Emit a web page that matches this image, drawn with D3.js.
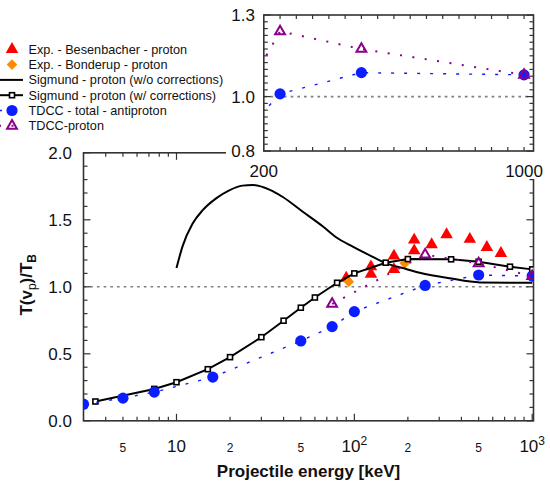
<!DOCTYPE html>
<html>
<head>
<meta charset="utf-8">
<script src="https://cdn.jsdelivr.net/npm/d3@7"></script>
<style>
  html, body { margin: 0; padding: 0; background: #fff; }
  svg { display: block; font-family: "Liberation Sans", Arial, Helvetica, sans-serif; }
</style>
</head>
<body>
<svg id="chart" width="550" height="481"></svg>
<script>
// Projectile energies (keV) and stopping ratios T(v_p)/T_B
const besenbacherE = [90, 124, 124, 167, 167, 217, 217, 272, 330, 446, 556, 667];
const besenbacherT = [1.065, 1.15, 1.095, 1.23, 1.13, 1.35, 1.27, 1.315, 1.39, 1.355, 1.295, 1.25];

const bonderupE = [93, 192];
const bonderupT = [1.038, 1.175];

const sigmundNoCorrE = [10, 10.8, 12.3, 14, 16.7, 19.8, 23.5, 26.8, 33.3, 39.6, 51.3, 66.6, 79, 98, 122, 151, 187, 233, 345, 508, 1000];
const sigmundNoCorrT = [1.14, 1.30, 1.47, 1.57, 1.66, 1.72, 1.755, 1.76, 1.725, 1.67, 1.56, 1.45, 1.37, 1.30, 1.235, 1.175, 1.14, 1.105, 1.063, 1.033, 1.03];

const sigmundCorrE = [3.5, 7.5, 10, 15, 20, 30, 40, 50, 60, 80, 100, 150, 200, 350, 500, 750, 1000];
const sigmundCorrT = [0.144, 0.238, 0.288, 0.385, 0.475, 0.624, 0.747, 0.844, 0.92, 1.03, 1.10, 1.18, 1.207, 1.205, 1.187, 1.15, 1.13];

const tdccAntiE = [3, 5, 7.5, 16, 50, 75, 100, 250, 500, 1000];
const tdccAntiT = [0.124, 0.169, 0.214, 0.326, 0.596, 0.703, 0.815, 1.01, 1.088, 1.08];

const tdccProtonE = [75, 250, 500, 1000];
const tdccProtonT = [0.872, 1.24, 1.175, 1.08];

const legendLabels = [
  "Exp. - Besenbacher - proton",
  "Exp. - Bonderup - proton",
  "Sigmund - proton (w/o corrections)",
  "Sigmund - proton (w/ corrections)",
  "TDCC - total - antiproton",
  "TDCC-proton"
];

const mainYTicks = [0, 0.5, 1.0, 1.5, 2.0];
const mainXLabels = [
  { v: 5, t: "5", big: false }, { v: 10, t: "10", big: true },
  { v: 20, t: "2", big: false }, { v: 50, t: "5", big: false },
  { v: 100, t: "10", sup: "2", big: true }, { v: 200, t: "2", big: false },
  { v: 500, t: "5", big: false }, { v: 1000, t: "10", sup: "3", big: true }
];
const insetYLabels = [0.8, 1.0, 1.3];
const insetXLabels = [200, 1000];

const C = {
  frame: "#333", red: "#ff0000", orange: "#ff8c00",
  blue: "#0a1eff", purple: "#8b008b", grey: "#808080", black: "#000"
};

const zip = (xs, ys) => xs.map((x, i) => ({ x, y: ys[i] }));

const svg = d3.select("#chart");
svg.append("rect").attr("width", 550).attr("height", 481).attr("fill", "#fff");

// ---------- main panel ----------
const M = { left: 83.5, right: 533.5, top: 152.8, bottom: 420.8 };
const x = d3.scaleLog().domain([3, 1017]).range([M.left, M.right]);
const y = d3.scaleLinear().domain([0, 2]).range([M.bottom, M.top]);

svg.append("clipPath").attr("id", "mainClip")
  .append("rect").attr("x", M.left).attr("y", M.top)
  .attr("width", M.right - M.left).attr("height", M.bottom - M.top);

const main = svg.append("g");

// reference line T = T_B
main.append("line")
  .attr("x1", M.left).attr("x2", M.right).attr("y1", y(1)).attr("y2", y(1))
  .attr("stroke", C.grey).attr("stroke-width", 1.6).attr("stroke-dasharray", "2.7,4");

// ticks (inward, on all four sides)
const xMinor = [], xMajor = [10, 100, 1000];
[1, 10, 100].forEach(d => { for (let k = 2; k <= 9; k++) { const v = k * d; if (v > 3 && v < 1017) xMinor.push(v); } });
const ticks = main.append("g").attr("stroke", C.frame).attr("stroke-width", 1.2);
xMinor.concat(xMajor).forEach(v => {
  const len = xMajor.includes(v) ? 7 : 4, px = x(v);
  ticks.append("line").attr("x1", px).attr("x2", px).attr("y1", M.bottom).attr("y2", M.bottom - len);
  ticks.append("line").attr("x1", px).attr("x2", px).attr("y1", M.top).attr("y2", M.top + len);
});
d3.range(0, 21).forEach(i => {
  const v = i / 10, len = (i % 5 === 0) ? 7 : 4, py = y(v);
  ticks.append("line").attr("x1", M.left).attr("x2", M.left + len).attr("y1", py).attr("y2", py);
  ticks.append("line").attr("x1", M.right).attr("x2", M.right - len).attr("y1", py).attr("y2", py);
});

main.append("rect")
  .attr("x", M.left).attr("y", M.top).attr("width", M.right - M.left).attr("height", M.bottom - M.top)
  .attr("fill", "none").attr("stroke", C.frame).attr("stroke-width", 1.6);

// tick labels
main.selectAll("text.ylab").data(mainYTicks).join("text")
  .attr("x", 72).attr("y", d => y(d)).attr("dy", "0.36em")
  .attr("text-anchor", "end").attr("font-size", 17).attr("fill", "#111")
  .text(d => d.toFixed(1));

mainXLabels.forEach(d => {
  const t = main.append("text").attr("x", x(d.v)).attr("y", 452)
    .attr("text-anchor", "middle").attr("fill", "#111")
    .attr("font-size", d.big ? 17 : 12);
  t.append("tspan").text(d.t);
  if (d.sup) t.append("tspan").attr("font-size", 12).attr("dy", -7).text(d.sup);
});

main.append("text").attr("x", (M.left + M.right) / 2).attr("y", 477)
  .attr("text-anchor", "middle").attr("font-size", 17).attr("font-weight", "bold")
  .attr("fill", "#111").text("Projectile energy [keV]");

const ytitle = main.append("text")
  .attr("transform", `translate(32,${(M.top + M.bottom) / 2 - 2}) rotate(-90)`)
  .attr("text-anchor", "middle").attr("font-size", 17).attr("font-weight", "bold").attr("fill", "#111");
ytitle.append("tspan").text("T(v");
ytitle.append("tspan").attr("font-size", 12).attr("font-weight", "normal").attr("dy", 4).text("p");
ytitle.append("tspan").attr("dy", -4).text(")/T");
ytitle.append("tspan").attr("font-size", 12).attr("dy", 4).text("B");

// data layer
const data = main.append("g").attr("clip-path", "url(#mainClip)");
const lineMain = d3.line().x(d => x(d.x)).y(d => y(d.y));

const sym = (type, size) => d3.symbol().type(type).size(size)();

function drawSeries(g, sx, sy) {
  const ln = d3.line().x(d => sx(d.x)).y(d => sy(d.y));
  // TDCC curves
  g.append("path").datum(zip(tdccAntiE, tdccAntiT)).attr("d", ln)
    .attr("fill", "none").attr("stroke", C.blue).attr("stroke-width", 1.4).attr("stroke-dasharray", "3,10");
  g.append("path").datum(zip(tdccProtonE, tdccProtonT)).attr("d", ln)
    .attr("fill", "none").attr("stroke", C.purple).attr("stroke-width", 2).attr("stroke-dasharray", "2,10.5");
}

// experiments
data.selectAll("path.bes").data(zip(besenbacherE, besenbacherT)).join("path")
  .attr("transform", d => `translate(${x(d.x)},${y(d.y)})`)
  .attr("d", sym(d3.symbolTriangle, 68)).attr("fill", C.red);
data.selectAll("path.bon").data(zip(bonderupE, bonderupT)).join("path")
  .attr("transform", d => `translate(${x(d.x)},${y(d.y)})`)
  .attr("d", sym(d3.symbolDiamond2, 72)).attr("fill", C.orange);

// Sigmund theory
data.append("path").datum(zip(sigmundNoCorrE, sigmundNoCorrT))
  .attr("d", d3.line().x(d => x(d.x)).y(d => y(d.y)).curve(d3.curveMonotoneX))
  .attr("fill", "none").attr("stroke", C.black).attr("stroke-width", 2);
data.append("path").datum(zip(sigmundCorrE, sigmundCorrT)).attr("d", lineMain)
  .attr("fill", "none").attr("stroke", C.black).attr("stroke-width", 2);
data.selectAll("rect.sq").data(zip(sigmundCorrE, sigmundCorrT)).join("rect")
  .attr("x", d => x(d.x) - 2.5).attr("y", d => y(d.y) - 2.5).attr("width", 5).attr("height", 5)
  .attr("fill", "#fff").attr("stroke", C.black).attr("stroke-width", 1.6);

drawSeries(data, x, y);
data.selectAll("circle.anti").data(zip(tdccAntiE, tdccAntiT)).join("circle")
  .attr("cx", d => x(d.x)).attr("cy", d => y(d.y)).attr("r", 5.6).attr("fill", C.blue);
data.selectAll("path.prot").data(zip(tdccProtonE, tdccProtonT)).join("path")
  .attr("transform", d => `translate(${x(d.x)},${y(d.y)})`)
  .attr("d", sym(d3.symbolTriangle, 42)).attr("fill", "none")
  .attr("stroke", C.purple).attr("stroke-width", 2);

// ---------- inset panel ----------
svg.append("rect").attr("x", 226).attr("y", 0).attr("width", 324).attr("height", 179).attr("fill", "#fff");

const I = { left: 263.8, right: 533.5, top: 15, bottom: 151 };
const xi = d3.scaleLinear().domain([200, 1029]).range([I.left, I.right]);
const yi = d3.scaleLinear().domain([0.8, 1.3]).range([I.bottom, I.top]);

svg.append("clipPath").attr("id", "insetClip")
  .append("rect").attr("x", I.left).attr("y", I.top)
  .attr("width", I.right - I.left).attr("height", I.bottom - I.top);

const inset = svg.append("g");
inset.append("line")
  .attr("x1", I.left).attr("x2", I.right).attr("y1", yi(1)).attr("y2", yi(1))
  .attr("stroke", C.grey).attr("stroke-width", 1.6).attr("stroke-dasharray", "2.7,4");

const iticks = inset.append("g").attr("stroke", C.frame).attr("stroke-width", 1.2);
d3.range(250, 1001, 50).forEach(v => {
  const px = xi(v);
  iticks.append("line").attr("x1", px).attr("x2", px).attr("y1", I.bottom).attr("y2", I.bottom - 4);
  iticks.append("line").attr("x1", px).attr("x2", px).attr("y1", I.top).attr("y2", I.top + 4);
});
d3.range(0, 21).forEach(i => {
  const v = 0.8 + i * 0.025, py = yi(v);
  const len = insetYLabels.some(l => Math.abs(l - v) < 1e-6) ? 7 : 4;
  iticks.append("line").attr("x1", I.left).attr("x2", I.left + len).attr("y1", py).attr("y2", py);
  iticks.append("line").attr("x1", I.right).attr("x2", I.right - len).attr("y1", py).attr("y2", py);
});

const idata = inset.append("g").attr("clip-path", "url(#insetClip)");
drawSeries(idata, xi, yi);
idata.selectAll("circle").data(zip(tdccAntiE, tdccAntiT)).join("circle")
  .attr("cx", d => xi(d.x)).attr("cy", d => yi(d.y)).attr("r", 5.6).attr("fill", C.blue);
idata.selectAll("path.prot").data(zip(tdccProtonE, tdccProtonT)).join("path")
  .attr("transform", d => `translate(${xi(d.x)},${yi(d.y)})`)
  .attr("d", sym(d3.symbolTriangle, 42)).attr("fill", "none")
  .attr("stroke", C.purple).attr("stroke-width", 2);

inset.append("rect")
  .attr("x", I.left).attr("y", I.top).attr("width", I.right - I.left).attr("height", I.bottom - I.top)
  .attr("fill", "none").attr("stroke", C.frame).attr("stroke-width", 1.6);

inset.selectAll("text.iy").data(insetYLabels).join("text")
  .attr("x", 255).attr("y", d => yi(d)).attr("dy", "0.36em")
  .attr("text-anchor", "end").attr("font-size", 17).attr("fill", "#111")
  .text(d => d.toFixed(1));
inset.selectAll("text.ix").data(insetXLabels).join("text")
  .attr("x", d => xi(d)).attr("y", 177)
  .attr("text-anchor", "middle").attr("font-size", 17).attr("fill", "#111")
  .text(d => d);

// ---------- legend ----------
const legend = svg.append("g");
const rowY = i => 49.3 + i * 15.3;
legendLabels.forEach((label, i) => {
  legend.append("text").attr("x", 28.5).attr("y", rowY(i)).attr("dy", "0.36em")
    .attr("font-size", 12.7).attr("fill", "#111").text(label);
});
legend.append("path").attr("transform", `translate(12,${rowY(0)})`)
  .attr("d", sym(d3.symbolTriangle, 68)).attr("fill", C.red);
legend.append("path").attr("transform", `translate(12,${rowY(1)})`)
  .attr("d", sym(d3.symbolDiamond2, 72)).attr("fill", C.orange);
legend.append("line").attr("x1", -2).attr("x2", 23).attr("y1", rowY(2)).attr("y2", rowY(2))
  .attr("stroke", C.black).attr("stroke-width", 2);
legend.append("line").attr("x1", -2).attr("x2", 23).attr("y1", rowY(3)).attr("y2", rowY(3))
  .attr("stroke", C.black).attr("stroke-width", 2);
legend.append("rect").attr("x", 9.5).attr("y", rowY(3) - 2.5).attr("width", 5).attr("height", 5)
  .attr("fill", "#fff").attr("stroke", C.black).attr("stroke-width", 1.6);
legend.append("line").attr("x1", -1).attr("x2", 23).attr("y1", rowY(4)).attr("y2", rowY(4))
  .attr("stroke", C.blue).attr("stroke-width", 1.4).attr("stroke-dasharray", "3,10");
legend.append("circle").attr("cx", 12).attr("cy", rowY(4)).attr("r", 5.6).attr("fill", C.blue);
legend.append("line").attr("x1", -1).attr("x2", 23).attr("y1", rowY(5)).attr("y2", rowY(5))
  .attr("stroke", C.purple).attr("stroke-width", 2).attr("stroke-dasharray", "2,10.5");
legend.append("path").attr("transform", `translate(12,${rowY(5)})`)
  .attr("d", sym(d3.symbolTriangle, 42)).attr("fill", "none")
  .attr("stroke", C.purple).attr("stroke-width", 2);
</script>
</body>
</html>
